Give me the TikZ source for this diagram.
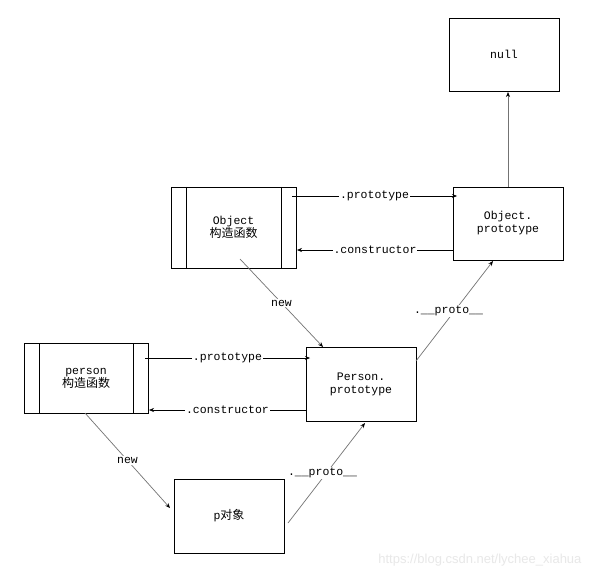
\documentclass[tikz,border=0pt]{standalone}
\usepackage{fontspec}
\setmonofont{Liberation Mono}
\newfontfamily\cjk{Noto Sans CJK SC}
\newfontfamily\wmfont{Liberation Sans}
\usetikzlibrary{arrows.meta}
\begin{document}
\begin{tikzpicture}[x=1pt,y=-1pt,
  box/.style={draw=black,line width=0.8pt,fill=white,inner sep=0pt,align=center,font=\ttfamily\fontsize{11.5}{13}\selectfont},
  horiz/.style={draw=black,line width=0.6pt,-{Stealth[length=5pt,width=4pt]}},
  diag/.style={draw=black!55,line width=0.7pt,-{Stealth[length=5pt,width=4pt,color=black]}},
  lbl/.style={fill=white,inner sep=1pt,font=\ttfamily\fontsize{11.5}{13}\selectfont}]
\useasboundingbox (0,0) rectangle (593,577);
\fill[white] (0,0) rectangle (593,577);

\node[box,minimum width=110pt,minimum height=73pt] (null) at (504,54.5) {null};
\node[box,minimum width=110pt,minimum height=73pt] (op) at (508,223.5) {Object.\\prototype};
\node[box,minimum width=125pt,minimum height=81pt] (oc) at (233.5,227.5) {Object\\[0pt]{\cjk\fontsize{12}{13}\selectfont 构造函数}};
\draw[line width=0.8pt] (186,187) -- (186,268) (281,187) -- (281,268);
\node[box,minimum width=124pt,minimum height=70pt] (pc) at (86,378) {person\\[0pt]{\cjk\fontsize{12}{13}\selectfont 构造函数}};
\draw[line width=0.8pt] (39,343) -- (39,413) (133,343) -- (133,413);
\node[box,minimum width=110pt,minimum height=74pt] (pp) at (361,384) {Person.\\prototype};
\node[box,minimum width=110pt,minimum height=74pt] (pobj) at (229,516) {p{\cjk\fontsize{12}{13}\selectfont 对象}};

\coordinate (a1) at (292,196); \coordinate (a2) at (457,196);
\draw[horiz] (a1) -- node[lbl] {.prototype} (a2);
\coordinate (b1) at (453,250); \coordinate (b2) at (297,250);
\draw[horiz] (b1) -- node[lbl] {.constructor} (b2);
\coordinate (c1) at (145,358); \coordinate (c2) at (310,358);
\draw[horiz] (c1) -- node[lbl] {.prototype} (c2);
\coordinate (d1) at (306,410); \coordinate (d2) at (149,410);
\draw[horiz] (d1) -- node[lbl] {.constructor} (d2);

\coordinate (u1) at (508,187); \coordinate (u2) at (508,92);
\draw[diag] (u1) -- (u2);
\coordinate (n1) at (240,259); \coordinate (n2) at (323,347);
\draw[diag] (n1) -- node[lbl,pos=0.5] {new} (n2);
\coordinate (n3) at (85,413); \coordinate (n4) at (170,508);
\draw[diag] (n3) -- node[lbl,pos=0.5] {new} (n4);
\coordinate (p1) at (288,523); \coordinate (p2) at (365,423);
\draw[diag] (p1) -- node[lbl,pos=0.5,xshift=-4pt] {.\_\_proto\_\_} (p2);
\coordinate (q1) at (416,361); \coordinate (q2) at (493,261);
\draw[diag] (q1) -- node[lbl,pos=0.5,xshift=-6pt] {.\_\_proto\_\_} (q2);

\node[font=\wmfont\fontsize{13}{14}\selectfont,text=black!9,anchor=east] (wm) at (585,560) {https://blog.csdn.net/lychee\_xiahua};
\end{tikzpicture}
\end{document}
